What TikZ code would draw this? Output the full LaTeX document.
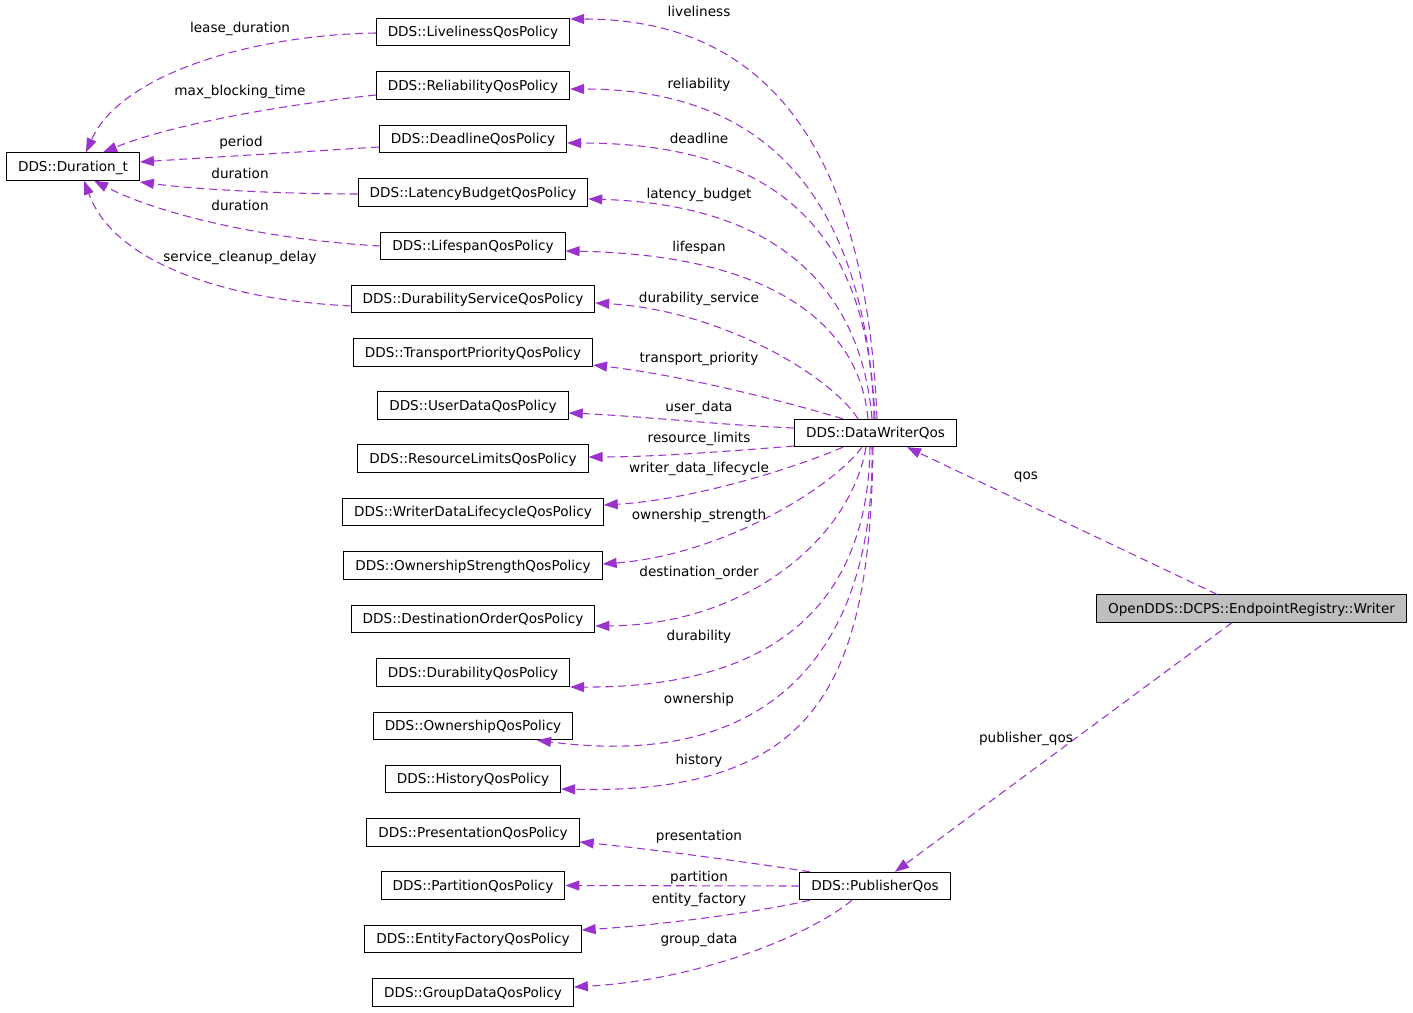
\documentclass[tikz,border=0pt]{standalone}
\usepackage{fontspec}
\setmainfont{DejaVu Sans}
\usetikzlibrary{arrows.meta}
\definecolor{edgec}{HTML}{9A32CD}
\definecolor{wrfill}{HTML}{BFBFBF}
\begin{document}
\begin{tikzpicture}[x=0.75pt,y=-0.75pt,
  cls/.style={draw=black, line width=0.75pt, inner xsep=8.6pt, inner ysep=0pt,
    minimum height=20.5pt, text height=7.4pt, text depth=0pt,
    font=\fontsize{10.2}{12}\selectfont},
  lbl/.style={inner sep=0pt, text height=7.4pt, text depth=0pt,
    font=\fontsize{10.2}{12}\selectfont},
  assoc/.style={draw=edgec, line width=0.8pt, dash pattern=on 6pt off 3.6pt,
    -{Triangle[length=10.5pt,width=7.5pt]}},
]
\useasboundingbox (0,0) rectangle (1413,1013);

% class boxes
\node[cls] (dur)  at (73,166.5) {DDS::Duration\_t};
\node[cls] (live) at (473,32)  {DDS::LivelinessQosPolicy};
\node[cls] (reli) at (473,85.5)  {DDS::ReliabilityQosPolicy};
\node[cls] (dead) at (473,139) {DDS::DeadlineQosPolicy};
\node[cls] (lat)  at (473,192.5) {DDS::LatencyBudgetQosPolicy};
\node[cls] (life) at (473,246) {DDS::LifespanQosPolicy};
\node[cls] (dser) at (473,299) {DDS::DurabilityServiceQosPolicy};
\node[cls] (tpri) at (473,352.5) {DDS::TransportPriorityQosPolicy};
\node[cls] (udat) at (473,405.5) {DDS::UserDataQosPolicy};
\node[cls] (rlim) at (473,458.5) {DDS::ResourceLimitsQosPolicy};
\node[cls] (wdl)  at (473,512) {DDS::WriterDataLifecycleQosPolicy};
\node[cls] (ostr) at (473,565.5) {DDS::OwnershipStrengthQosPolicy};
\node[cls] (dord) at (473,619) {DDS::DestinationOrderQosPolicy};
\node[cls] (dura) at (473,672.5) {DDS::DurabilityQosPolicy};
\node[cls] (own)  at (473,726) {DDS::OwnershipQosPolicy};
\node[cls] (hist) at (473,779) {DDS::HistoryQosPolicy};
\node[cls] (pres) at (473,832.5) {DDS::PresentationQosPolicy};
\node[cls] (part) at (473,885.5) {DDS::PartitionQosPolicy};
\node[cls] (efac) at (473,939) {DDS::EntityFactoryQosPolicy};
\node[cls] (gdat) at (473,992.5) {DDS::GroupDataQosPolicy};
\node[cls] (dwq)  at (875.5,433) {DDS::DataWriterQos};
\node[cls] (pq)   at (875,886) {DDS::PublisherQos};
\node[cls, fill=wrfill] (wr) at (1251.5,608.5) {OpenDDS::DCPS::EndpointRegistry::Writer};

% DataWriterQos members (upper)
\draw[assoc] (877,0 |- dwq.north) .. controls (868,199) and (800,19) .. (live.east |- 0,19);
\draw[assoc] (875,0 |- dwq.north) .. controls (866,237) and (798,89) .. (reli.east |- 0,89);
\draw[assoc] (874,0 |- dwq.north) .. controls (870,260) and (805,143) .. (dead.east |- 0,143);
\draw[assoc] (872,0 |- dwq.north) .. controls (862,300) and (790,205) .. (lat.east |- 0,199);
\draw[assoc] (868,0 |- dwq.north) .. controls (860,330) and (780,255) .. (life.east |- 0,251);
\draw[assoc] (858,0 |- dwq.north) .. controls (830,375) and (720,310) .. (dser.east |- 0,303);
\draw[assoc] (843,0 |- dwq.north) .. controls (780,400) and (680,375) .. (tpri.east |- 0,365);
\draw[assoc] (dwq.west |- 0,428) .. controls (720,425) and (640,416) .. (udat.east |- 0,413);
\draw[assoc] (dwq.west |- 0,446) .. controls (720,452) and (650,457) .. (rlim.east |- 0,457);
% DataWriterQos members (lower)
\draw[assoc] (843,0 |- dwq.south) .. controls (790,470) and (690,500) .. (wdl.east |- 0,505);
\draw[assoc] (862,0 |- dwq.south) .. controls (830,490) and (720,555) .. (ostr.east |- 0,564);
\draw[assoc] (866,0 |- dwq.south) .. controls (850,540) and (745,625) .. (dord.east |- 0,626);
\draw[assoc] (870,0 |- dwq.south) .. controls (868,590) and (790,688) .. (dura.east |- 0,687);
\draw[assoc] (872,0 |- dwq.south) .. controls (875,640) and (780,772) .. (537,0 |- own.south);
\draw[assoc] (873,0 |- dwq.south) .. controls (870,680) and (820,795) .. (hist.east |- 0,789);

% PublisherQos members
\draw[assoc] (810,0 |- pq.north) .. controls (760,864) and (660,850) .. (pres.east |- 0,842);
\draw[assoc] (pq.west) -- (part.east);
\draw[assoc] (810,0 |- pq.south) .. controls (760,912) and (660,925) .. (efac.east |- 0,930);
\draw[assoc] (852,0 |- pq.south) .. controls (810,935) and (700,980) .. (gdat.east |- 0,987);

% Writer members
\draw[assoc] (1217,0 |- wr.north) -- (907,0 |- dwq.south);
\draw[assoc] (1232,0 |- wr.south) -- (895,0 |- pq.north);

% Duration_t members
\draw[assoc] (live.west |- 0,33) .. controls (250,35) and (120,75) .. (86,0 |- dur.north);
\draw[assoc] (reli.west |- 0,95) .. controls (280,105) and (170,125) .. (103,0 |- dur.north);
\draw[assoc] (dead.west |- 0,147) .. controls (300,152) and (200,158) .. (dur.east |- 0,162);
\draw[assoc] (lat.west |- 0,194) .. controls (290,194) and (200,190) .. (dur.east |- 0,182);
\draw[assoc] (life.west |- 0,246) .. controls (270,240) and (160,215) .. (94,0 |- dur.south);
\draw[assoc] (dser.west |- 0,306) .. controls (230,300) and (115,265) .. (84,0 |- dur.south);

% labels
\node[lbl] (l1)  at (699,12)  {liveliness};
\node[lbl] (l2)  at (699,84)  {reliability};
\node[lbl] (l3)  at (699,139) {deadline};
\node[lbl] (l4)  at (699,194) {latency\_budget};
\node[lbl] (l5)  at (699,247) {lifespan};
\node[lbl] (l6)  at (699,298) {durability\_service};
\node[lbl] (l7)  at (699,358) {transport\_priority};
\node[lbl] (l8)  at (699,407) {user\_data};
\node[lbl] (l9)  at (699,438) {resource\_limits};
\node[lbl] (l10) at (699,468) {writer\_data\_lifecycle};
\node[lbl] (l11) at (699,515) {ownership\_strength};
\node[lbl] (l12) at (699,572) {destination\_order};
\node[lbl] (l13) at (699,636) {durability};
\node[lbl] (l14) at (699,699) {ownership};
\node[lbl] (l15) at (699,760) {history};
\node[lbl] (l16) at (699,836) {presentation};
\node[lbl] (l17) at (699,877) {partition};
\node[lbl] (l18) at (699,899) {entity\_factory};
\node[lbl] (l19) at (699,939) {group\_data};
\node[lbl] (l20) at (1026,475) {qos};
\node[lbl] (l21) at (1026,738) {publisher\_qos};
\node[lbl] (l22) at (240,28)  {lease\_duration};
\node[lbl] (l23) at (240,91)  {max\_blocking\_time};
\node[lbl] (l24) at (241,142) {period};
\node[lbl] (l25) at (240,174) {duration};
\node[lbl] (l26) at (240,206) {duration};
\node[lbl] (l27) at (240,257) {service\_cleanup\_delay};
\end{tikzpicture}
\end{document}
